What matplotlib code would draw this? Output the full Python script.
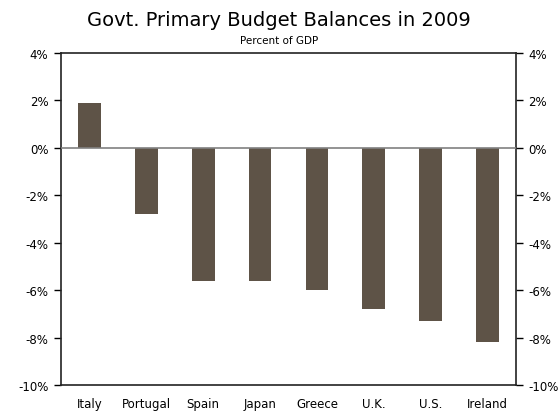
import matplotlib
matplotlib.use("Agg")
import matplotlib.pyplot as plt
import numpy as np

countries = ["Italy", "Portugal", "Spain", "Japan", "Greece", "U.K.", "U.S.", "Ireland"]
balances = [1.9, -2.8, -5.6, -5.6, -6.0, -6.8, -7.3, -8.2]
yticks = [4, 2, 0, -2, -4, -6, -8, -10]

plt.rcParams['font.family'] = ['DejaVu Sans']

fig = plt.figure(figsize=(5.58, 4.14), dpi=100)
ax = fig.add_axes([61 / 558, 1 - 386 / 414, (516 - 61) / 558, (386 - 54) / 414])

x = np.arange(len(countries))
ax.bar(x, balances, width=0.4, color="#5e5347", zorder=2)
ax.axhline(0, color="#808080", lw=1.2, zorder=3)

ax.set_xlim(-0.5, len(countries) - 0.5)
ax.set_ylim(-10, 4)
ax.set_yticks(yticks)
ax.set_yticklabels([f"{t}%" for t in yticks])
ax.set_xticks(x)
ax.set_xticklabels(countries)
ax.tick_params(axis="x", length=0, pad=8.5, labelsize=8.5)
ax.tick_params(axis="y", direction="out", length=5, width=1, labelsize=8.5,
               right=True, labelright=True, pad=4)
for s in ax.spines.values():
    s.set_linewidth(1.2)
    s.set_color("#222222")

fig.text(0.5, 1 - 20 / 414, "Govt. Primary Budget Balances in 2009", ha="center", va="center", fontsize=14)
fig.text(0.5, 1 - 41 / 414, "Percent of GDP", ha="center", va="center", fontsize=7.5)

fig.savefig("out.png", dpi=100)
